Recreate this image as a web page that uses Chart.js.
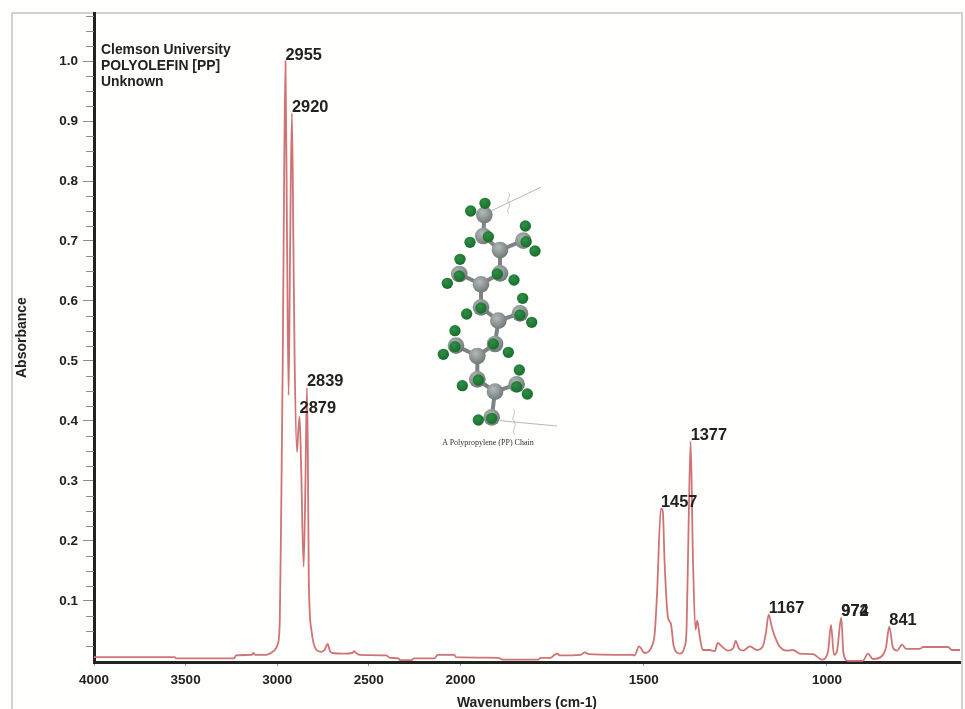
<!DOCTYPE html>
<html>
<head>
<meta charset="utf-8">
<script src="https://cdn.jsdelivr.net/npm/chart.js@4"></script>
<style>
html,body{margin:0;padding:0;background:#fff;}
#wrap{position:relative;width:965px;height:709px;overflow:hidden;background:#fefefd;filter:blur(0.5px);}
#frame{position:absolute;left:11px;top:12px;width:952px;height:720px;border:2px solid #d2d2d2;box-sizing:border-box;}
canvas{position:absolute;left:0;top:0;}
#mol{position:absolute;left:420px;top:170px;width:150px;height:290px;}
</style>
</head>
<body>
<div id="wrap">
<div id="frame"></div>
<canvas id="c" width="965" height="709"></canvas>
<svg id="mol" viewBox="0 0 450 870" xmlns="http://www.w3.org/2000/svg">
<defs>
<radialGradient id="g" cx="40%" cy="35%" r="70%"><stop offset="0" stop-color="#b4baba"/><stop offset="1" stop-color="#6d7474"/></radialGradient>
<radialGradient id="h" cx="40%" cy="35%" r="70%"><stop offset="0" stop-color="#2f8f44"/><stop offset="1" stop-color="#176b2c"/></radialGradient>
</defs>
<g stroke="#a8a8a8" stroke-width="2.5" fill="none">
<path d="M215 122L362 52M240 752L410 768"/>
<path d="M266 68c10 12-10 18 0 30s-10 18 0 32M280 718c12 14-10 22 2 36s-10 24 2 40" stroke-width="2"/>
</g>
<g stroke="#7d8383" stroke-width="12" fill="none">
<path d="M193 135L190 198L240 240L310 212M240 240L240 310L183 343L118 312M183 343L183 412L235 452L300 430M235 452L225 522L172 558L108 527M172 558L172 628L225 665L290 643M225 665L215 742"/>
</g>
<g fill="url(#g)">
<circle cx="193" cy="135" r="25"/><circle cx="190" cy="198" r="25"/><circle cx="240" cy="240" r="25"/><circle cx="310" cy="212" r="25"/><circle cx="240" cy="310" r="25"/><circle cx="183" cy="343" r="25"/><circle cx="118" cy="312" r="25"/><circle cx="183" cy="412" r="25"/><circle cx="235" cy="452" r="25"/><circle cx="300" cy="430" r="25"/><circle cx="225" cy="522" r="25"/><circle cx="172" cy="558" r="25"/><circle cx="108" cy="527" r="25"/><circle cx="172" cy="628" r="25"/><circle cx="225" cy="665" r="25"/><circle cx="290" cy="643" r="25"/><circle cx="215" cy="742" r="25"/>
</g>
<g fill="url(#h)">
<circle cx="195" cy="100" r="17"/><circle cx="152" cy="123" r="17"/><circle cx="205" cy="200" r="17"/><circle cx="150" cy="217" r="17"/><circle cx="316" cy="168" r="17"/><circle cx="345" cy="243" r="17"/><circle cx="318" cy="215" r="17"/><circle cx="120" cy="268" r="17"/><circle cx="82" cy="340" r="17"/><circle cx="118" cy="318" r="17"/><circle cx="232" cy="312" r="17"/><circle cx="282" cy="330" r="17"/><circle cx="183" cy="414" r="17"/><circle cx="140" cy="432" r="17"/><circle cx="308" cy="385" r="17"/><circle cx="335" cy="457" r="17"/><circle cx="300" cy="435" r="17"/><circle cx="105" cy="482" r="17"/><circle cx="70" cy="553" r="17"/><circle cx="105" cy="530" r="17"/><circle cx="220" cy="522" r="17"/><circle cx="265" cy="547" r="17"/><circle cx="175" cy="630" r="17"/><circle cx="127" cy="647" r="17"/><circle cx="298" cy="600" r="17"/><circle cx="322" cy="672" r="17"/><circle cx="290" cy="650" r="17"/><circle cx="175" cy="750" r="17"/><circle cx="215" cy="745" r="17"/>
</g>
<text x="204" y="826" text-anchor="middle" font-family="'Liberation Serif',serif" font-size="24" fill="#333">A Polypropylene (PP) Chain</text>
</svg>
</div>
<script>
const wavenumbers = [
4000,3560,3550,3235,3225,3140,3130,3120,3060,3025,2997,2986,2977,2970,2962,2955,2947,2938,2930,2920,2912,2905,2892,2886,2878,2870,2856,2846,2838,2833,2828,2813,2786,2760,2742,2725,2712,2700,2640,2590,2580,2570,2550,2405,2385,2338,2330,2266,2255,2142,2125,2033,2025,1896,1885,1788,1782,1754,1743,1735,1730,1672,1661,1650,1574,1530,1525,1513,1497,1478,1470,1464,1453,1448,1443,1434,1426,1418,1402,1388,1383,1378,1372,1366,1359,1354,1347,1339,1320,1306,1298,1287,1270,1256,1249,1240,1229,1210,1191,1175,1167,1159,1150,1142,1128,1110,1093,1074,1038,1014,997,989,981,973,961,955,943,902,888,875,850,839,830,820,809,795,784,746,738,669,660,637
];
const absorbance = [
0.006,0.006,0.004,0.004,0.009,0.010,0.013,0.010,0.010,0.015,0.028,0.068,0.29,0.50,0.82,1.0,0.72,0.443,0.68,0.913,0.70,0.50,0.348,0.38,0.407,0.33,0.157,0.30,0.455,0.35,0.14,0.05,0.018,0.015,0.018,0.028,0.016,0.013,0.012,0.013,0.016,0.013,0.010,0.009,0.005,0.004,0.001,0.001,0.004,0.004,0.010,0.010,0.006,0.005,0.002,0.002,0.005,0.005,0.010,0.012,0.009,0.010,0.014,0.011,0.010,0.010,0.009,0.024,0.013,0.024,0.046,0.107,0.254,0.25,0.163,0.073,0.062,0.024,0.012,0.024,0.055,0.21,0.366,0.18,0.052,0.067,0.04,0.018,0.018,0.016,0.03,0.024,0.017,0.021,0.033,0.02,0.017,0.024,0.018,0.024,0.045,0.077,0.055,0.04,0.023,0.017,0.018,0.012,0.011,0.002,0.016,0.06,0.01,0.015,0.072,0.013,0,0,0.012,0.003,0.008,0.022,0.057,0.022,0.017,0.027,0.02,0.02,0.023,0.023,0.018,0.018
];
const xTickValues = [4000,3500,3000,2500,2000,1500,1000];
const yMajorTicks = [0.1,0.2,0.3,0.4,0.5,0.6,0.7,0.8,0.9,1.0];
const yMinorTicks = [0.025,0.05,0.075,0.125,0.15,0.175,0.225,0.25,0.275,0.325,0.35,0.375,0.425,0.45,0.475,0.525,0.55,0.575,0.625,0.65,0.675,0.725,0.75,0.775,0.825,0.85,0.875,0.925,0.95,0.975,1.025,1.05,1.075];
const peakLabels = ["2955","2920","2839","2879","1457","1377","1167","974","972","841"];
const peakWavenumbers = [2955,2920,2838,2878,1453,1372,1159,961,961,830];
const peakHeights = [1.0,0.913,0.455,0.407,0.254,0.366,0.077,0.072,0.073,0.057];
const headerLines = ["Clemson University","POLYOLEFIN [PP]","Unknown"];

const BREAK = 2000, WN_MAX = 4000, WN_MIN = 637;
class IRScale extends Chart.LinearScale {
  _frac(){ const hi=(WN_MAX-BREAK), lo=2*(BREAK-WN_MIN); return {hi,lo,t:hi+lo}; }
  getPixelForValue(v){
    const {hi,t}=this._frac();
    const u = v>=BREAK ? (WN_MAX-v) : hi+2*(BREAK-v);
    return this.left + this.width*u/t;
  }
  getValueForPixel(p){
    const {hi,t}=this._frac();
    const u=(p-this.left)/this.width*t;
    return u<=hi ? WN_MAX-u : BREAK-(u-hi)/2;
  }
}
IRScale.id='irscale';
IRScale.defaults=Chart.LinearScale.defaults;
Chart.register(IRScale);

const INK='#222';
const annotate={
  id:'annotate',
  afterDatasetsDraw(chart){
    const ctx=chart.ctx,x=chart.scales.x,y=chart.scales.y;
    ctx.save();
    ctx.strokeStyle='#8c8c8c';ctx.lineWidth=1;
    yMinorTicks.forEach(v=>{const p=Math.round(y.getPixelForValue(v))+0.5;ctx.beginPath();ctx.moveTo(x.left-8,p);ctx.lineTo(x.left,p);ctx.stroke();});
    ctx.fillStyle=INK;ctx.textBaseline='middle';ctx.textAlign='left';
    ctx.font='bold 16.4px "Liberation Sans"';
    peakLabels.forEach((t,i)=>{
      ctx.fillText(t,x.getPixelForValue(peakWavenumbers[i]),y.getPixelForValue(peakHeights[i])-6-(t==='2879'?2:0));
    });
    ctx.font='bold 13.9px "Liberation Sans"';
    headerLines.forEach((t,i)=>ctx.fillText(t,101,50+i*16));
    ctx.restore();
  }
};

new Chart(document.getElementById('c'),{
  type:'line',
  data:{datasets:[{
    label:'Absorbance',
    data:wavenumbers.map((w,i)=>({x:w,y:absorbance[i]})),
    borderColor:'#cf7475',borderWidth:1.8,pointRadius:0,cubicInterpolationMode:'monotone',fill:false
  }]},
  plugins:[annotate],
  options:{
    responsive:false,animation:false,
    layout:{padding:{top:13,right:5,left:0,bottom:0}},
    plugins:{legend:{display:false},tooltip:{enabled:false}},
    scales:{
      x:{
        type:'irscale',min:WN_MIN,max:WN_MAX,
        afterBuildTicks:s=>{s.ticks=xTickValues.map(v=>({value:v}));},
        afterFit:s=>{s.height=47;},
        grid:{drawOnChartArea:false,drawTicks:true,tickLength:4,tickColor:'#999',tickWidth:1},
        border:{color:'#222',width:3},
        ticks:{color:INK,font:{family:'Liberation Sans',size:13.5,weight:'bold'},autoSkip:false,maxRotation:0,padding:6,callback:v=>String(v)},
        title:{display:true,text:'Wavenumbers (cm-1)',color:INK,font:{family:'Liberation Sans',size:13.9,weight:'bold'},padding:{top:0,bottom:-3}}
      },
      y:{
        min:-0.002,max:1.08,
        afterBuildTicks:s=>{s.ticks=yMajorTicks.map(v=>({value:v}));},
        afterFit:s=>{s.width=94;},
        grid:{drawOnChartArea:false,drawTicks:true,tickLength:11,tickColor:'#8c8c8c',tickWidth:1},
        border:{color:'#222',width:3},
        ticks:{color:INK,font:{family:'Liberation Sans',size:13.5,weight:'bold'},padding:5,callback:v=>v.toFixed(1)},
        title:{display:true,text:'Absorbance',color:INK,font:{family:'Liberation Sans',size:14,weight:'bold'},padding:{top:14,bottom:0}}
      }
    }
  }
});
</script>
</body>
</html>
